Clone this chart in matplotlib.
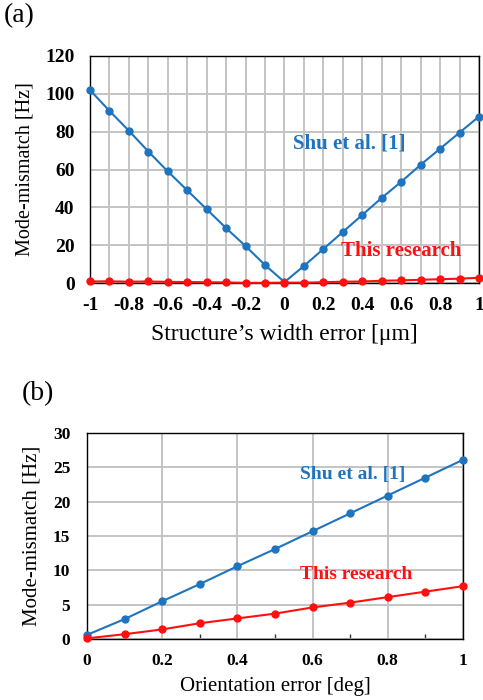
import numpy as np
import matplotlib
matplotlib.use("Agg")
from matplotlib import pyplot as plt

plt.rcParams['font.family'] = ['Liberation Serif', 'DejaVu Serif']

# panel (a): width error
width_err = [-1, -0.9, -0.8, -0.7, -0.6, -0.5, -0.4, -0.3, -0.2, -0.1, 0,
             0.1, 0.2, 0.3, 0.4, 0.5, 0.6, 0.7, 0.8, 0.9, 1]
shu_a = [102, 91, 80.5, 69.5, 59, 49, 39, 29, 19.5, 9.5, 0.5,
         9, 18, 27, 36, 45, 53.5, 62.5, 71, 79.5, 88]
ours_a = [0.8, 0.9, 0.7, 0.8, 0.6, 0.5, 0.4, 0.3, 0.1, 0.1, 0.2,
          0.2, 0.4, 0.7, 0.8, 1.2, 1.4, 1.7, 2.0, 2.3, 2.8]

# panel (b): orientation error
orient_err = [0, 0.1, 0.2, 0.3, 0.4, 0.5, 0.6, 0.7, 0.8, 0.9, 1]
shu_b = [0.6, 2.9, 5.5, 8.0, 10.6, 13.1, 15.7, 18.3, 20.9, 23.5, 26.1]
ours_b = [0.1, 0.7, 1.4, 2.3, 3.0, 3.7, 4.6, 5.3, 6.1, 6.9, 7.7]

BLUE = '#1f74bf'
RED = '#ff1010'
GRID = '#c4c4c4'

fig = plt.figure(figsize=(4.83, 7.0), dpi=100)


def style(ax, fs, xpad, ypad):
    ax.grid(True, color=GRID, lw=1.4)
    ax.set_axisbelow(True)
    ax.tick_params(length=0, labelsize=fs)
    ax.tick_params(axis='x', pad=xpad)
    ax.tick_params(axis='y', pad=ypad)
    for lab in ax.get_xticklabels() + ax.get_yticklabels():
        lab.set_fontweight('bold')
    for s in ax.spines.values():
        s.set_linewidth(1.0)
        s.set_color('black')


# (a)
ax1 = fig.add_axes([0.1863, 0.5957, 0.8054, 0.3243])
ax1.plot(width_err, shu_a, '-o', color=BLUE, lw=1.5, ms=5, clip_on=False, zorder=3)
ax1.plot(width_err, ours_a, '-o', color=RED, lw=1.5, ms=5, clip_on=False, zorder=4)
ax1.set_xlim(-1, 1)
ax1.set_ylim(0, 120)
ax1.set_xticks(np.arange(-1, 1.01, 0.1), minor=True)
ax1.set_xticks([-1, -0.8, -0.6, -0.4, -0.2, 0, 0.2, 0.4, 0.6, 0.8, 1])
ax1.set_xticklabels(['-1', '-0.8', '-0.6', '-0.4', '-0.2', '0', '0.2', '0.4', '0.6', '0.8', '1'])
ax1.set_yticks(range(0, 121, 20))
ax1.grid(True, which='minor', axis='x', color=GRID, lw=1.4)
ax1.tick_params(which='minor', length=0)
style(ax1, 14, 10, 11)
ax1.set_xlabel("Structure\u2019s width error [\u03bcm]", fontsize=17, labelpad=7)
ax1.set_ylabel("Mode-mismatch [Hz]", fontsize=14.5, labelpad=8)
ax1.text(0.045, 74, "Shu et al. [1]", color=BLUE, fontsize=15, fontweight='bold', va='center')
ax1.text(0.29, 17, "This research", color=RED, fontsize=15, fontweight='bold', va='center')
fig.text(0.008, 0.995, "(a)", fontsize=20, va='top', ha='left')

# (b)
ax2 = fig.add_axes([0.180, 0.0871, 0.7785, 0.2943])
ax2.plot(orient_err, shu_b, '-o', color=BLUE, lw=1.5, ms=5, clip_on=False, zorder=3)
ax2.plot(orient_err, ours_b, '-o', color=RED, lw=1.5, ms=5, clip_on=False, zorder=4)
ax2.set_xlim(0, 1)
ax2.set_ylim(0, 30)
ax2.set_xticks([0, 0.2, 0.4, 0.6, 0.8, 1])
ax2.set_xticklabels(['0', '0.2', '0.4', '0.6', '0.8', '1'])
ax2.set_xticks([0.1, 0.3, 0.5, 0.7, 0.9], minor=True)
ax2.set_yticks(range(0, 31, 5))
style(ax2, 12.5, 10, 12)
ax2.tick_params(axis='x', which='minor', direction='in', length=3.5, width=1, color='#333333')
ax2.set_xlabel("Orientation error [deg]", fontsize=15, labelpad=6)
ax2.set_ylabel("Mode-mismatch [Hz]", fontsize=15, labelpad=8)
ax2.text(0.566, 24, "Shu et al. [1]", color=BLUE, fontsize=14, fontweight='bold', va='center')
ax2.text(0.566, 9.4, "This research", color=RED, fontsize=14, fontweight='bold', va='center')
fig.text(0.045, 0.455, "(b)", fontsize=20, va='top', ha='left')

fig.savefig("out.png", dpi=100)
